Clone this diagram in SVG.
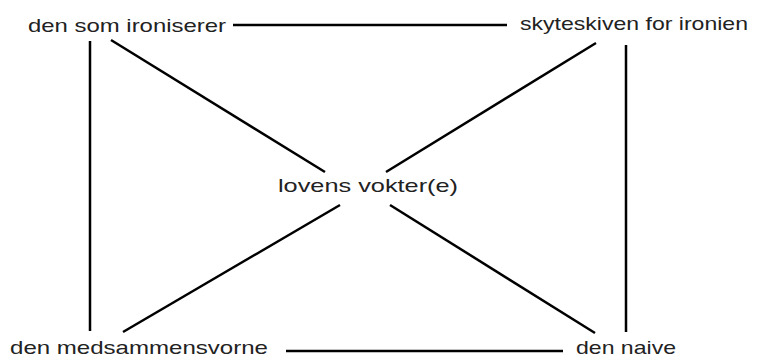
<svg xmlns="http://www.w3.org/2000/svg" width="761" height="358" viewBox="0 0 761 358">
<style>
text{font-family:"Liberation Sans",Arial,sans-serif;font-size:19px;fill:#222}
.c line{stroke:#000;stroke-width:2.5}
</style>
<rect width="761" height="358" fill="#fff"/>
<g class="c" id="connectors">
<line x1="233" y1="25" x2="507" y2="25"/>
<line x1="286" y1="351" x2="563" y2="351"/>
<line x1="90" y1="41" x2="90" y2="331"/>
<line x1="626" y1="45" x2="626" y2="332"/>
<line x1="111" y1="40" x2="325" y2="172"/>
<line x1="596" y1="43" x2="386" y2="172"/>
<line x1="340" y1="205" x2="123" y2="332"/>
<line x1="390" y1="205" x2="595" y2="333"/>
</g>
<g id="n1"><text x="28" y="32" textLength="198" lengthAdjust="spacingAndGlyphs">den som ironiserer</text></g>
<g id="n2"><text x="520" y="30" textLength="228" lengthAdjust="spacingAndGlyphs">skyteskiven for ironien</text></g>
<g id="n3"><text x="278" y="192" textLength="180" lengthAdjust="spacingAndGlyphs">lovens vokter(e)</text></g>
<g id="n4"><text x="10" y="354" textLength="258" lengthAdjust="spacingAndGlyphs">den medsammensvorne</text></g>
<g id="n5"><text x="576" y="354" textLength="100" lengthAdjust="spacingAndGlyphs">den naive</text></g>
</svg>
